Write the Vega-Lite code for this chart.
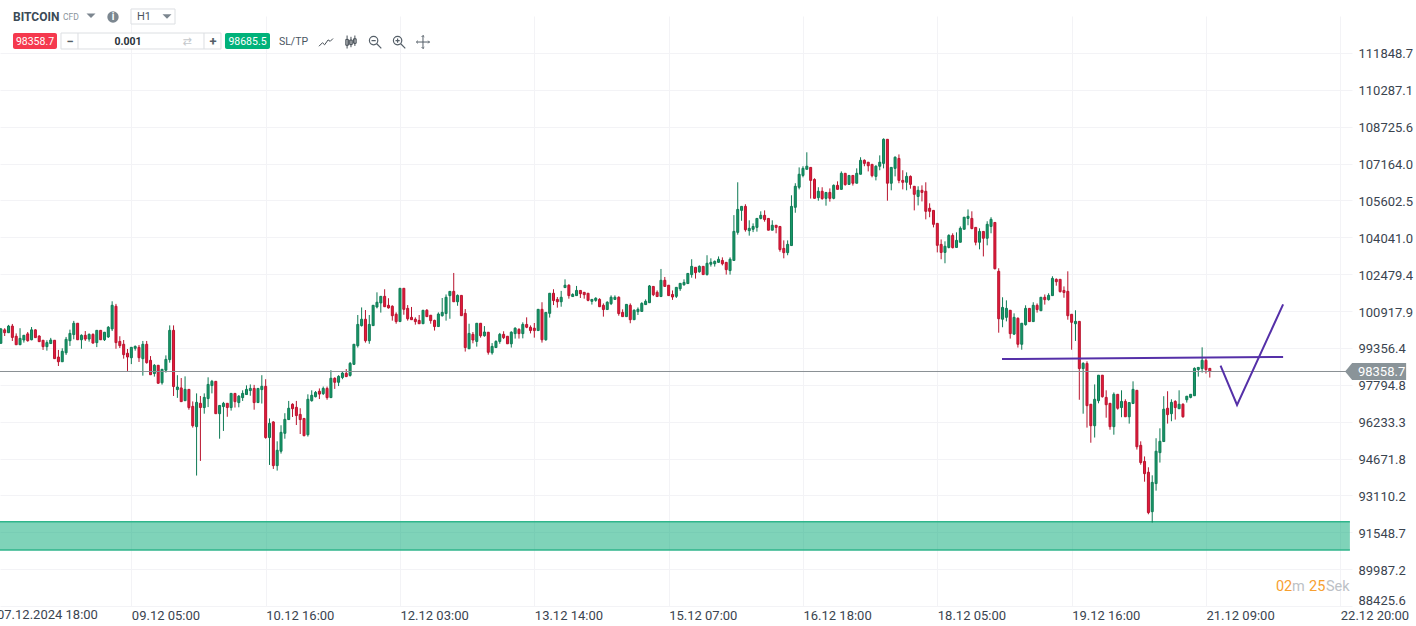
{"$schema":"https://vega.github.io/schema/vega-lite/v6.json","width":1352,"height":590,"autosize":{"type":"none"},"padding":{"left":0,"top":16,"right":64,"bottom":20},"background":"#ffffff",
"config":{"font":"Roboto","view":{"stroke":null},"text":{"font":"Roboto"}},
"datasets":{"candles":[
{"i":1,"o":99550,"h":100200,"l":99550,"c":100160},{"i":2,"o":100120,"h":100190,"l":99860,"c":100000},{"i":3,"o":100000,"h":100330,"l":100000,"c":100280},{"i":4,"o":100280,"h":100370,"l":99650,"c":99800},{"i":5,"o":99850,"h":99970,"l":99490,"c":99490},{"i":6,"o":99490,"h":100190,"l":99490,"c":99760},{"i":7,"o":99690,"h":99890,"l":99580,"c":99890},{"i":8,"o":99950,"h":100030,"l":99620,"c":99660},{"i":9,"o":99700,"h":100240,"l":99680,"c":100120},{"i":10,"o":100120,"h":100140,"l":99790,"c":99790},
{"i":11,"o":99860,"h":99890,"l":99610,"c":99620},{"i":12,"o":99680,"h":99680,"l":99270,"c":99410},{"i":13,"o":99410,"h":99680,"l":99240,"c":99580},{"i":14,"o":99540,"h":99780,"l":99540,"c":99690},{"i":15,"o":99680,"h":99680,"l":98900,"c":98900},{"i":16,"o":98970,"h":99270,"l":98590,"c":98770},{"i":17,"o":98770,"h":99340,"l":98770,"c":99210},{"i":18,"o":99150,"h":99820,"l":99060,"c":99720},{"i":19,"o":99660,"h":100130,"l":99440,"c":99970},{"i":20,"o":99920,"h":100500,"l":99720,"c":100400},
{"i":21,"o":100400,"h":100400,"l":99700,"c":99700},{"i":22,"o":99700,"h":99930,"l":99320,"c":99890},{"i":23,"o":99890,"h":100070,"l":99650,"c":99730},{"i":24,"o":99730,"h":99970,"l":99620,"c":99930},{"i":25,"o":99930,"h":99970,"l":99550,"c":99560},{"i":26,"o":99580,"h":100100,"l":99390,"c":100100},{"i":27,"o":100100,"h":100100,"l":99690,"c":99700},{"i":28,"o":99700,"h":100020,"l":99650,"c":100020},{"i":29,"o":99820,"h":100280,"l":99780,"c":100230},{"i":30,"o":100160,"h":101330,"l":100070,"c":101160},
{"i":31,"o":101120,"h":101220,"l":99320,"c":99580},{"i":32,"o":99630,"h":99850,"l":99350,"c":99450},{"i":33,"o":99510,"h":99690,"l":98900,"c":99070},{"i":34,"o":99130,"h":99310,"l":98380,"c":98970},{"i":35,"o":98940,"h":99380,"l":98670,"c":99380},{"i":36,"o":99340,"h":99460,"l":99240,"c":99420},{"i":37,"o":99380,"h":99480,"l":98760,"c":98940},{"i":38,"o":98900,"h":99650,"l":98180,"c":99510},{"i":39,"o":99510,"h":99650,"l":98690,"c":98730},{"i":40,"o":98830,"h":99010,"l":98220,"c":98220},
{"i":41,"o":98270,"h":98670,"l":98140,"c":98620},{"i":42,"o":98620,"h":98620,"l":97840,"c":97860},{"i":43,"o":97880,"h":98450,"l":97800,"c":98450},{"i":44,"o":98410,"h":99040,"l":98310,"c":98870},{"i":45,"o":98860,"h":100310,"l":98730,"c":100100},{"i":46,"o":100100,"h":100310,"l":97320,"c":97720},{"i":47,"o":97590,"h":98200,"l":97240,"c":97700},{"i":48,"o":97660,"h":98080,"l":97080,"c":97080},{"i":49,"o":97120,"h":98150,"l":97110,"c":97600},{"i":50,"o":97600,"h":97600,"l":96740,"c":96830},
{"i":51,"o":96880,"h":97090,"l":95980,"c":96060},{"i":52,"o":96020,"h":97430,"l":93950,"c":97050},{"i":53,"o":97010,"h":97320,"l":94570,"c":96830},{"i":54,"o":96830,"h":97430,"l":96570,"c":97260},{"i":55,"o":97210,"h":98110,"l":96850,"c":97810},{"i":56,"o":97760,"h":98000,"l":97430,"c":97940},{"i":57,"o":97940,"h":97940,"l":96570,"c":96570},{"i":58,"o":96570,"h":96920,"l":95510,"c":96920},{"i":59,"o":96870,"h":97070,"l":95840,"c":97010},{"i":60,"o":97010,"h":97010,"l":96440,"c":96830},
{"i":61,"o":96830,"h":97430,"l":96700,"c":97430},{"i":62,"o":97430,"h":97430,"l":96830,"c":97080},{"i":63,"o":97040,"h":97360,"l":96840,"c":97310},{"i":64,"o":97250,"h":97560,"l":97110,"c":97430},{"i":65,"o":97380,"h":97770,"l":97380,"c":97600},{"i":66,"o":97550,"h":97810,"l":97330,"c":97640},{"i":67,"o":97640,"h":97790,"l":96740,"c":97040},{"i":68,"o":97040,"h":97640,"l":97040,"c":97640},{"i":69,"o":97590,"h":98200,"l":97000,"c":97730},{"i":70,"o":97730,"h":98030,"l":95510,"c":95560},
{"i":71,"o":95560,"h":96370,"l":94400,"c":96160},{"i":72,"o":96220,"h":96250,"l":94230,"c":94370},{"i":73,"o":94370,"h":95400,"l":94160,"c":95020},{"i":74,"o":94980,"h":96080,"l":94880,"c":95780},{"i":75,"o":95740,"h":96590,"l":95510,"c":96330},{"i":76,"o":96320,"h":97110,"l":96320,"c":96800},{"i":77,"o":96970,"h":97010,"l":96430,"c":96780},{"i":78,"o":96840,"h":97110,"l":96090,"c":96490},{"i":79,"o":96540,"h":96800,"l":95710,"c":96320},{"i":80,"o":96370,"h":96370,"l":95610,"c":95640},
{"i":81,"o":95680,"h":97390,"l":95600,"c":97180},{"i":82,"o":97120,"h":97560,"l":97080,"c":97350},{"i":83,"o":97290,"h":97530,"l":97260,"c":97470},{"i":84,"o":97520,"h":97640,"l":97190,"c":97400},{"i":85,"o":97420,"h":97720,"l":97360,"c":97640},{"i":86,"o":97640,"h":97720,"l":97160,"c":97250},{"i":87,"o":97250,"h":98410,"l":97250,"c":98070},{"i":88,"o":98070,"h":98110,"l":97620,"c":97900},{"i":89,"o":97900,"h":98200,"l":97740,"c":98150},{"i":90,"o":98100,"h":98340,"l":98030,"c":98290},
{"i":91,"o":98280,"h":98460,"l":98120,"c":98140},{"i":92,"o":98190,"h":98760,"l":98140,"c":98700},{"i":93,"o":98660,"h":99510,"l":98630,"c":99510},{"i":94,"o":99450,"h":100750,"l":99370,"c":100350},{"i":95,"o":100300,"h":101070,"l":100260,"c":100570},{"i":96,"o":100570,"h":100960,"l":99580,"c":99660},{"i":97,"o":99660,"h":100750,"l":99530,"c":100350},{"i":98,"o":100300,"h":101160,"l":100300,"c":101160},{"i":99,"o":101090,"h":101710,"l":101030,"c":101290},{"i":100,"o":101260,"h":101540,"l":100850,"c":101540},
{"i":101,"o":101540,"h":101840,"l":101100,"c":101100},{"i":102,"o":101160,"h":101460,"l":101020,"c":101050},{"i":103,"o":101120,"h":101160,"l":100510,"c":100720},{"i":104,"o":100780,"h":100860,"l":100380,"c":100470},{"i":105,"o":100470,"h":101880,"l":100470,"c":101880},{"i":106,"o":101880,"h":101880,"l":100760,"c":100990},{"i":107,"o":101030,"h":101170,"l":100510,"c":100590},{"i":108,"o":100650,"h":101090,"l":100540,"c":100550},{"i":109,"o":100570,"h":100650,"l":100340,"c":100470},{"i":110,"o":100520,"h":100750,"l":100380,"c":100380},
{"i":111,"o":100380,"h":100950,"l":100380,"c":100950},{"i":112,"o":100950,"h":101000,"l":100680,"c":100680},{"i":113,"o":100740,"h":100740,"l":100380,"c":100510},{"i":114,"o":100520,"h":100550,"l":100090,"c":100260},{"i":115,"o":100260,"h":100860,"l":100260,"c":100790},{"i":116,"o":100720,"h":101470,"l":100680,"c":100860},{"i":117,"o":100810,"h":101620,"l":100510,"c":101500},{"i":118,"o":101570,"h":101750,"l":100590,"c":101750},{"i":119,"o":101750,"h":102530,"l":101310,"c":101310},{"i":120,"o":101310,"h":101620,"l":101140,"c":101580},
{"i":121,"o":101580,"h":101580,"l":100720,"c":100720},{"i":122,"o":100820,"h":101000,"l":99200,"c":99370},{"i":123,"o":99320,"h":100380,"l":99320,"c":99970},{"i":124,"o":99930,"h":100030,"l":99550,"c":99690},{"i":125,"o":99630,"h":100400,"l":99410,"c":100400},{"i":126,"o":100400,"h":100400,"l":99790,"c":99870},{"i":127,"o":99870,"h":100280,"l":99830,"c":100030},{"i":128,"o":100020,"h":100020,"l":99070,"c":99170},{"i":129,"o":99150,"h":99560,"l":99070,"c":99420},{"i":130,"o":99370,"h":99680,"l":99370,"c":99630},
{"i":131,"o":99630,"h":99990,"l":99530,"c":99930},{"i":132,"o":99930,"h":100060,"l":99730,"c":99790},{"i":133,"o":99850,"h":99850,"l":99530,"c":99530},{"i":134,"o":99530,"h":100060,"l":99370,"c":100020},{"i":135,"o":99960,"h":100230,"l":99750,"c":100190},{"i":136,"o":100140,"h":100190,"l":99750,"c":99960},{"i":137,"o":99960,"h":100440,"l":99760,"c":100350},{"i":138,"o":100350,"h":100650,"l":100190,"c":100230},{"i":139,"o":100230,"h":100310,"l":99970,"c":100090},{"i":140,"o":100190,"h":100410,"l":99790,"c":100090},
{"i":141,"o":100090,"h":100990,"l":100090,"c":100990},{"i":142,"o":100990,"h":101290,"l":99580,"c":99700},{"i":143,"o":99700,"h":100860,"l":99660,"c":100860},{"i":144,"o":100820,"h":101670,"l":100640,"c":101670},{"i":145,"o":101670,"h":101840,"l":101170,"c":101360},{"i":146,"o":101410,"h":101510,"l":101060,"c":101310},{"i":147,"o":101310,"h":101770,"l":101100,"c":101500},{"i":148,"o":101910,"h":102260,"l":101910,"c":102010},{"i":149,"o":102010,"h":102050,"l":101440,"c":101570},{"i":150,"o":101530,"h":101670,"l":101530,"c":101620},
{"i":151,"o":101570,"h":101980,"l":101570,"c":101790},{"i":152,"o":101790,"h":101790,"l":101470,"c":101650},{"i":153,"o":101710,"h":101710,"l":101440,"c":101610},{"i":154,"o":101670,"h":101670,"l":101330,"c":101370},{"i":155,"o":101330,"h":101410,"l":101190,"c":101410},{"i":156,"o":101370,"h":101500,"l":101310,"c":101460},{"i":157,"o":101410,"h":101460,"l":101100,"c":101100},{"i":158,"o":101160,"h":101240,"l":100680,"c":100980},{"i":159,"o":100980,"h":101330,"l":100980,"c":101290},{"i":160,"o":101230,"h":101580,"l":101170,"c":101500},
{"i":161,"o":101410,"h":101580,"l":101390,"c":101500},{"i":162,"o":101500,"h":101540,"l":100720,"c":100810},{"i":163,"o":100860,"h":100990,"l":100680,"c":100680},{"i":164,"o":100680,"h":101200,"l":100680,"c":101200},{"i":165,"o":101160,"h":101240,"l":100400,"c":100550},{"i":166,"o":100550,"h":100990,"l":100550,"c":100950},{"i":167,"o":100890,"h":101070,"l":100750,"c":100990},{"i":168,"o":100900,"h":101290,"l":100900,"c":101240},{"i":169,"o":101190,"h":101410,"l":101190,"c":101330},{"i":170,"o":101270,"h":102020,"l":101270,"c":101980},
{"i":171,"o":101960,"h":101960,"l":101550,"c":101610},{"i":172,"o":101710,"h":101790,"l":101530,"c":101530},{"i":173,"o":101530,"h":102700,"l":101530,"c":102220},{"i":174,"o":102220,"h":102360,"l":101950,"c":101960},{"i":175,"o":102010,"h":102010,"l":101570,"c":101570},{"i":176,"o":101620,"h":101790,"l":101390,"c":101510},{"i":177,"o":101540,"h":101920,"l":101470,"c":101920},{"i":178,"o":101860,"h":102090,"l":101770,"c":102090},{"i":179,"o":102030,"h":102260,"l":101990,"c":102130},{"i":180,"o":102080,"h":102510,"l":102080,"c":102510},
{"i":181,"o":102460,"h":103110,"l":102330,"c":102810},{"i":182,"o":102770,"h":102770,"l":102290,"c":102540},{"i":183,"o":102580,"h":102850,"l":102540,"c":102810},{"i":184,"o":102810,"h":102810,"l":102460,"c":102460},{"i":185,"o":102460,"h":103280,"l":102420,"c":102940},{"i":186,"o":102900,"h":103150,"l":102800,"c":102980},{"i":187,"o":102920,"h":103060,"l":102800,"c":103020},{"i":188,"o":102980,"h":103230,"l":102970,"c":103110},{"i":189,"o":103060,"h":103190,"l":102850,"c":102920},{"i":190,"o":102980,"h":102980,"l":102460,"c":102670},
{"i":191,"o":102630,"h":103190,"l":102460,"c":103110},{"i":192,"o":103060,"h":104980,"l":103060,"c":104290},{"i":193,"o":104250,"h":106370,"l":104150,"c":105220},{"i":194,"o":105180,"h":105350,"l":104740,"c":105350},{"i":195,"o":105350,"h":105440,"l":104280,"c":104360},{"i":196,"o":104320,"h":104760,"l":104110,"c":104420},{"i":197,"o":104380,"h":104630,"l":104260,"c":104500},{"i":198,"o":104460,"h":104840,"l":104280,"c":104840},{"i":199,"o":104840,"h":105140,"l":104800,"c":104970},{"i":200,"o":104970,"h":105180,"l":104700,"c":104790},
{"i":201,"o":104840,"h":104840,"l":104340,"c":104340},{"i":202,"o":104340,"h":104760,"l":104340,"c":104550},{"i":203,"o":104550,"h":104550,"l":104210,"c":104460},{"i":204,"o":104500,"h":104500,"l":103430,"c":103520},{"i":205,"o":103570,"h":103910,"l":103150,"c":103390},{"i":206,"o":103390,"h":103910,"l":103280,"c":103740},{"i":207,"o":103690,"h":105820,"l":103690,"c":105350},{"i":208,"o":105310,"h":106330,"l":105080,"c":106200},{"i":209,"o":106160,"h":107000,"l":106070,"c":106710},{"i":210,"o":106660,"h":107050,"l":106580,"c":106960},
{"i":211,"o":106920,"h":107640,"l":106920,"c":107050},{"i":212,"o":107000,"h":107000,"l":105680,"c":106450},{"i":213,"o":106490,"h":106540,"l":105690,"c":105690},{"i":214,"o":105720,"h":106160,"l":105590,"c":105990},{"i":215,"o":105990,"h":106160,"l":105630,"c":105680},{"i":216,"o":105690,"h":105940,"l":105380,"c":105940},{"i":217,"o":105940,"h":106110,"l":105550,"c":105690},{"i":218,"o":105690,"h":106280,"l":105650,"c":106240},{"i":219,"o":106240,"h":106410,"l":106070,"c":106070},{"i":220,"o":106070,"h":106830,"l":106070,"c":106750},
{"i":221,"o":106750,"h":106750,"l":106230,"c":106270},{"i":222,"o":106280,"h":106660,"l":106280,"c":106660},{"i":223,"o":106660,"h":106660,"l":106230,"c":106330},{"i":224,"o":106330,"h":106960,"l":106330,"c":106750},{"i":225,"o":106710,"h":107430,"l":106710,"c":107300},{"i":226,"o":107300,"h":107340,"l":107050,"c":107170},{"i":227,"o":107220,"h":107220,"l":106830,"c":107070},{"i":228,"o":107130,"h":107130,"l":106580,"c":106650},{"i":229,"o":106620,"h":107090,"l":106450,"c":107050},{"i":230,"o":107050,"h":107510,"l":106880,"c":107220},
{"i":231,"o":107170,"h":108230,"l":106960,"c":108190},{"i":232,"o":108190,"h":108190,"l":105590,"c":106330},{"i":233,"o":106330,"h":107000,"l":106030,"c":107000},{"i":234,"o":106960,"h":107470,"l":106620,"c":107430},{"i":235,"o":107380,"h":107550,"l":106330,"c":106450},{"i":236,"o":106450,"h":106880,"l":106070,"c":106370},{"i":237,"o":106370,"h":106790,"l":106030,"c":106620},{"i":238,"o":106620,"h":106660,"l":106100,"c":106280},{"i":239,"o":106200,"h":106200,"l":105180,"c":105860},{"i":240,"o":105770,"h":106200,"l":105390,"c":106030},
{"i":241,"o":106030,"h":106240,"l":105560,"c":105940},{"i":242,"o":105990,"h":106370,"l":104800,"c":105140},{"i":243,"o":105270,"h":105480,"l":104890,"c":105140},{"i":244,"o":105180,"h":105180,"l":104460,"c":104590},{"i":245,"o":104630,"h":104630,"l":103400,"c":103700},{"i":246,"o":103740,"h":103950,"l":103110,"c":103400},{"i":247,"o":103400,"h":103870,"l":102940,"c":103660},{"i":248,"o":103610,"h":104170,"l":103570,"c":104120},{"i":249,"o":104120,"h":104210,"l":103570,"c":103600},{"i":250,"o":103610,"h":104250,"l":103610,"c":103910},
{"i":251,"o":103830,"h":104500,"l":103830,"c":104420},{"i":252,"o":104380,"h":104890,"l":104380,"c":104890},{"i":253,"o":104840,"h":105220,"l":104550,"c":104930},{"i":254,"o":104840,"h":105140,"l":104380,"c":104410},{"i":255,"o":104460,"h":104460,"l":103700,"c":103830},{"i":256,"o":103830,"h":104420,"l":103530,"c":104290},{"i":257,"o":104290,"h":104290,"l":103230,"c":104000},{"i":258,"o":104000,"h":104720,"l":103700,"c":104590},{"i":259,"o":104500,"h":104890,"l":104210,"c":104800},{"i":260,"o":104670,"h":104670,"l":102680,"c":102710},
{"i":261,"o":102600,"h":102730,"l":100000,"c":100590},{"i":262,"o":100570,"h":101500,"l":100230,"c":101070},{"i":263,"o":100650,"h":101370,"l":100480,"c":101030},{"i":264,"o":100950,"h":100950,"l":99750,"c":99960},{"i":265,"o":99940,"h":100820,"l":99900,"c":100650},{"i":266,"o":100610,"h":100650,"l":99370,"c":99510},{"i":267,"o":99510,"h":100400,"l":99280,"c":100400},{"i":268,"o":100340,"h":101160,"l":100300,"c":101030},{"i":269,"o":101030,"h":101030,"l":100470,"c":100470},{"i":270,"o":100470,"h":101290,"l":100470,"c":101160},
{"i":271,"o":101160,"h":101240,"l":100850,"c":100980},{"i":272,"o":100930,"h":101500,"l":100930,"c":101500},{"i":273,"o":101500,"h":101620,"l":101190,"c":101400},{"i":274,"o":101400,"h":101670,"l":101360,"c":101580},{"i":275,"o":101570,"h":102390,"l":101570,"c":102300},{"i":276,"o":102260,"h":102300,"l":101990,"c":102160},{"i":277,"o":102260,"h":102260,"l":101700,"c":101740},{"i":278,"o":101790,"h":101960,"l":101480,"c":101700},{"i":279,"o":101750,"h":102600,"l":100550,"c":100720},{"i":280,"o":100780,"h":100780,"l":99280,"c":100440},
{"i":281,"o":100380,"h":100950,"l":99650,"c":100480},{"i":282,"o":100480,"h":100480,"l":97160,"c":98480},{"i":283,"o":98480,"h":98750,"l":96570,"c":98700},{"i":284,"o":98700,"h":98790,"l":95980,"c":96910},{"i":285,"o":96970,"h":96970,"l":95340,"c":96060},{"i":286,"o":96060,"h":97810,"l":95560,"c":97180},{"i":287,"o":97120,"h":98200,"l":97010,"c":98200},{"i":288,"o":98200,"h":98200,"l":97250,"c":97290},{"i":289,"o":97260,"h":97560,"l":96400,"c":96950},{"i":290,"o":97010,"h":97010,"l":95890,"c":96020},
{"i":291,"o":96020,"h":97470,"l":95680,"c":97390},{"i":292,"o":97390,"h":97390,"l":96740,"c":96800},{"i":293,"o":96830,"h":97560,"l":96420,"c":97090},{"i":294,"o":97090,"h":97180,"l":96440,"c":96440},{"i":295,"o":96440,"h":97040,"l":96150,"c":97040},{"i":296,"o":97000,"h":97940,"l":97000,"c":97600},{"i":297,"o":97560,"h":97560,"l":95050,"c":95170},{"i":298,"o":95230,"h":95400,"l":94410,"c":94500},{"i":299,"o":94550,"h":94760,"l":93690,"c":94030},{"i":300,"o":94090,"h":94300,"l":92310,"c":92380},
{"i":301,"o":92420,"h":93960,"l":91960,"c":93660},{"i":302,"o":93610,"h":95530,"l":93310,"c":94980},{"i":303,"o":94920,"h":95950,"l":94500,"c":95400},{"i":304,"o":95390,"h":97310,"l":95390,"c":96760},{"i":305,"o":96800,"h":97520,"l":96150,"c":96530},{"i":306,"o":96570,"h":97180,"l":96250,"c":97050},{"i":307,"o":97090,"h":97140,"l":96320,"c":96830},{"i":308,"o":96780,"h":97560,"l":96780,"c":96970},{"i":309,"o":96970,"h":97010,"l":96400,"c":96440},{"i":310,"o":97160,"h":97310,"l":97040,"c":97310},
{"i":311,"o":97260,"h":97390,"l":97220,"c":97390},{"i":312,"o":97330,"h":98530,"l":97330,"c":98490},{"i":313,"o":98440,"h":98530,"l":98140,"c":98530},{"i":314,"o":98480,"h":99380,"l":98310,"c":98830},{"i":315,"o":98830,"h":98910,"l":98270,"c":98440},{"i":316,"o":98490,"h":98490,"l":98100,"c":98359}
]},
"encoding":{
"x":{"field":"i","type":"quantitative","title":null,"scale":{"domain":[0.78,353.05],"nice":false,"zero":false,"padding":0},"axis":{"values":[35,70,105,140,175,210,245,280,315,350],"labelExpr":"timeFormat(datetime(2024,11,7,18+datum.value+(datum.value>=315?12:datum.value>=175?6:0)),'%d.%m %H:%M')","labelAlign":"left","labelBaseline":"top","labelPadding":3,"labelFontSize":13,"labelColor":"#3a4450","labelFont":"Roboto","domain":false,"ticks":false,"grid":true,"gridColor":"#f3f3f6","gridWidth":1,"zindex":0,"labelOverlap":false,"labelFlush":false}},
"y":{"field":"p","type":"quantitative","title":null,"scale":{"domain":[88425.6,113412],"nice":false,"zero":false},"axis":{"orient":"right","values":[111848.7,110287.1,108725.6,107164.0,105602.5,104041.0,102479.4,100917.9,99356.4,97794.8,96233.3,94671.8,93110.2,91548.7,89987.2,88425.6],"format":".1f","labelPadding":6,"labelFontSize":13,"labelColor":"#3a4450","labelFont":"Roboto","labelOffset":1,"domain":false,"ticks":false,"grid":true,"gridColor":"#f3f3f6","gridWidth":1,"zindex":0,"labelOverlap":false,"labelFlush":true}}
},
"layer":[
{"data":{"values":[{"i":-2,"i2":352.5,"p":91996,"p2":90797}]},"mark":{"type":"rect","fill":"#00a873","fillOpacity":0.5,"clip":true},"encoding":{"x2":{"field":"i2"},"y2":{"field":"p2"}}},
{"data":{"values":[{"i":-2,"i2":352.5,"p":91996},{"i":-2,"i2":352.5,"p":90797}]},"mark":{"type":"rule","color":"#2fb58b","strokeWidth":1.5,"clip":true},"encoding":{"x2":{"field":"i2"}}},
{"data":{"name":"candles"},"mark":{"type":"rule","strokeWidth":1},"encoding":{"y":{"field":"l","type":"quantitative","title":null,"scale":{"domain":[88425.6,113412],"nice":false,"zero":false},"axis":{"orient":"right","values":[111848.7,110287.1,108725.6,107164.0,105602.5,104041.0,102479.4,100917.9,99356.4,97794.8,96233.3,94671.8,93110.2,91548.7,89987.2,88425.6],"format":".1f","labelPadding":6,"labelFontSize":13,"labelColor":"#3a4450","labelFont":"Roboto","labelOffset":1,"domain":false,"ticks":false,"grid":true,"gridColor":"#f3f3f6","gridWidth":1,"zindex":0,"labelOverlap":false,"labelFlush":true}},"y2":{"field":"h"},"color":{"condition":{"test":"datum.c>=datum.o","value":"#0f7a55"},"value":"#b8142e"}}},
{"data":{"name":"candles"},"mark":{"type":"bar","size":2,"strokeWidth":1},"encoding":{"y":{"field":"o","type":"quantitative","title":null,"scale":{"domain":[88425.6,113412],"nice":false,"zero":false},"axis":{"orient":"right","values":[111848.7,110287.1,108725.6,107164.0,105602.5,104041.0,102479.4,100917.9,99356.4,97794.8,96233.3,94671.8,93110.2,91548.7,89987.2,88425.6],"format":".1f","labelPadding":6,"labelFontSize":13,"labelColor":"#3a4450","labelFont":"Roboto","labelOffset":1,"domain":false,"ticks":false,"grid":true,"gridColor":"#f3f3f6","gridWidth":1,"zindex":0,"labelOverlap":false,"labelFlush":true}},"y2":{"field":"c"},"fill":{"condition":{"test":"datum.c>=datum.o","value":"#179a68"},"value":"#e6193c"},"stroke":{"condition":{"test":"datum.c>=datum.o","value":"#0f7a55"},"value":"#b8142e"}}},
{"data":{"values":[{"i":-2,"i2":352.5,"p":98357}]},"mark":{"type":"rule","color":"#8a9094","strokeWidth":1},"encoding":{"x2":{"field":"i2"}}},
{"data":{"values":[{"i":261.85,"p":98886},{"i":335.1,"p":98971}]},"mark":{"type":"line","color":"#5530a8","strokeWidth":2},"encoding":{}},
{"data":{"values":[{"i":318.8,"p":98604},{"i":323.1,"p":96938},{"i":335.1,"p":101201}]},"mark":{"type":"line","color":"#5530a8","strokeWidth":2},"encoding":{}},
{"data":{"values":[{"i":359.2,"p":98357}]},"mark":{"type":"point","shape":"M-1,0 L-0.77,-0.28 L1,-0.28 L1,0.28 L-0.77,0.28 Z","size":3721,"filled":true,"fill":"#8a9499","fillOpacity":1,"strokeWidth":0}},
{"data":{"values":[{"i":354.6,"p":98330,"t":"98358.7"}]},"mark":{"type":"text","align":"left","baseline":"middle","color":"#ffffff","fontSize":13},"encoding":{"text":{"field":"t"}}},
{"data":{"values":[{"i":0,"p":88044,"t":"07.12.2024 18:00"}]},"mark":{"type":"text","align":"left","baseline":"middle","color":"#3a4450","fontSize":13},"encoding":{"text":{"field":"t"}}},
{"data":{"values":[{"i":333.24,"p":89230,"t":"02"},{"i":341.85,"p":89230,"t":"25"}]},"mark":{"type":"text","align":"left","baseline":"middle","color":"#f7a030","fontSize":14.5},"encoding":{"text":{"field":"t"}}},
{"data":{"values":[{"i":337.4,"p":89230,"t":"m"},{"i":346.27,"p":89230,"t":"Sek"}]},"mark":{"type":"text","align":"left","baseline":"middle","color":"#bcc1c6","fontSize":14.5},"encoding":{"text":{"field":"t"}}},
{"data":{"values":[{"i":34.91,"i2":46.38,"p":113709,"p2":113073},{"i":16.67,"i2":58.36,"p":112692,"p2":112015}]},"mark":{"type":"rect","fill":"#ffffff","stroke":"#dcdfe2","strokeWidth":1},"encoding":{"x2":{"field":"i2"},"y2":{"field":"p2"}}},
{"data":{"values":[{"i":4.17,"i2":15.63,"p":112692,"p2":112015}]},"mark":{"type":"rect","fill":"#f5394e","cornerRadius":2},"encoding":{"x2":{"field":"i2"},"y2":{"field":"p2"}}},
{"data":{"values":[{"i":59.4,"i2":71.13,"p":112692,"p2":112015}]},"mark":{"type":"rect","fill":"#00b27a","cornerRadius":2},"encoding":{"x2":{"field":"i2"},"y2":{"field":"p2"}}},
{"data":{"values":[{"i":21.1,"p":112692,"p2":112015},{"i":53.93,"p":112692,"p2":112015}]},"mark":{"type":"rule","color":"#dcdfe2"},"encoding":{"y2":{"field":"p2"}}},
{"data":{"values":[{"i":4.17,"p":113370,"t":"BITCOIN"}]},"mark":{"type":"text","align":"left","baseline":"middle","fontWeight":"bold","fontSize":12,"color":"#3b4a56"},"encoding":{"text":{"field":"t"}}},
{"data":{"values":[{"i":17.2,"p":113370,"t":"CFD"}]},"mark":{"type":"text","align":"left","baseline":"middle","fontSize":8.5,"color":"#8b949c"},"encoding":{"text":{"field":"t"}}},
{"data":{"values":[{"i":36.48,"p":113370,"t":"H1"}]},"mark":{"type":"text","align":"left","baseline":"middle","fontSize":11,"color":"#4a555f"},"encoding":{"text":{"field":"t"}}},
{"data":{"values":[{"i":9.9,"p":112310,"t":"98358.7"},{"i":65.27,"p":112310,"t":"98685.5"}]},"mark":{"type":"text","align":"center","baseline":"middle","fontSize":10.5,"color":"#ffffff"},"encoding":{"text":{"field":"t"}}},
{"data":{"values":[{"i":34.13,"p":112310,"t":"0.001"}]},"mark":{"type":"text","align":"center","baseline":"middle","fontSize":10.5,"fontWeight":"bold","color":"#2a333b"},"encoding":{"text":{"field":"t"}}},
{"data":{"values":[{"i":19.02,"p":112310,"t":"−"},{"i":56.28,"p":112310,"t":"+"}]},"mark":{"type":"text","align":"center","baseline":"middle","fontSize":13,"fontWeight":"bold","color":"#555f68"},"encoding":{"text":{"field":"t"}}},
{"data":{"values":[{"i":49.5,"p":112310,"t":"⇄"}]},"mark":{"type":"text","align":"center","baseline":"middle","fontSize":11,"color":"#c4c8cc","font":"DejaVu Sans"},"encoding":{"text":{"field":"t"}}},
{"data":{"values":[{"i":73.47,"p":112310,"t":"SL/TP"}]},"mark":{"type":"text","align":"left","baseline":"middle","fontSize":10.5,"color":"#4a555f"},"encoding":{"text":{"field":"t"}}},
{"data":{"values":[{"i":24.49,"p":113420},{"i":44.29,"p":113390}]},"mark":{"type":"point","shape":"M-1,-0.5 L1,-0.5 L0,0.5 Z","size":81,"filled":true,"fill":"#7c868f","fillOpacity":1,"strokeWidth":0}},
{"data":{"values":[{"i":30.22,"p":113370}]},"mark":{"type":"point","shape":"circle","size":130,"filled":true,"fill":"#7c8790","fillOpacity":1,"strokeWidth":0}},
{"data":{"values":[{"i":30.22,"p":113370,"t":"i"}]},"mark":{"type":"text","align":"center","baseline":"middle","fontSize":10,"fontWeight":"bold","color":"#ffffff"},"encoding":{"text":{"field":"t"}}},
{"data":{"values":[{"i":85.72,"p":112310}]},"mark":{"type":"point","shape":"M-1,0.6 L-0.5,0.1 L-0.2,0.4 L0.3,-0.3 L0.6,-0.1 L1,-0.5","size":196,"filled":false,"stroke":"#444c54","strokeWidth":1,"opacity":1}},
{"data":{"values":[{"i":92.23,"p":112310}]},"mark":{"type":"point","shape":"M-0.6,-1 V1 M0,-0.8 V0.8 M0.6,-1 V0.6 M-0.8,-0.4 H-0.4 V0.5 H-0.8 Z M-0.2,-0.3 H0.2 V0.4 H-0.2 Z M0.4,-0.5 H0.8 V0.2 H0.4 Z","size":169,"filled":false,"stroke":"#444c54","strokeWidth":1,"opacity":1}},
{"data":{"values":[{"i":98.49,"p":112310}]},"mark":{"type":"point","shape":"M0.4,-0.2 A0.6,0.6 0 1 1 -0.8,-0.2 A0.6,0.6 0 1 1 0.4,-0.2 Z M-0.5,-0.2 H0.1 M0.25,0.25 L0.9,0.9","size":196,"filled":false,"stroke":"#555f68","strokeWidth":1.2,"opacity":1}},
{"data":{"values":[{"i":104.74,"p":112310}]},"mark":{"type":"point","shape":"M0.4,-0.2 A0.6,0.6 0 1 1 -0.8,-0.2 A0.6,0.6 0 1 1 0.4,-0.2 Z M-0.5,-0.2 H0.1 M-0.2,-0.5 V0.1 M0.25,0.25 L0.9,0.9","size":196,"filled":false,"stroke":"#555f68","strokeWidth":1.2,"opacity":1}},
{"data":{"values":[{"i":110.99,"p":112310}]},"mark":{"type":"point","shape":"M-1,0 H1 M0,-1 V1 M-0.8,-0.2 L-1,0 L-0.8,0.2 M0.8,-0.2 L1,0 L0.8,0.2 M-0.2,-0.8 L0,-1 L0.2,-0.8 M-0.2,0.8 L0,1 L0.2,0.8","size":169,"filled":false,"stroke":"#555f68","strokeWidth":1,"opacity":1}}
]}
